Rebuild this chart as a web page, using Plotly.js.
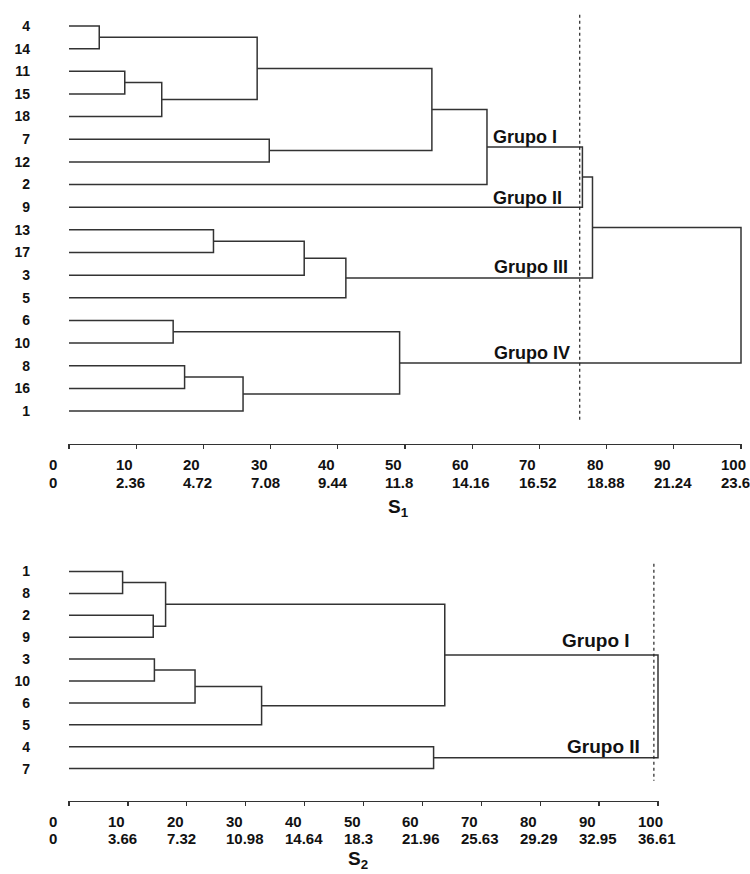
<!DOCTYPE html>
<html>
<head>
<meta charset="utf-8">
<script src="https://cdn.plot.ly/plotly-3.0.1.min.js"></script>
<style>html,body{margin:0;padding:0;background:#fff;}#chart{width:750px;height:874px;}</style>
</head>
<body>
<div id="chart"></div>
<script>
// ---------- DATA ----------
// Dendrogram S1 (leaf order top -> bottom)
const leaves1 = ['4','14','11','15','18','7','12','2','9','13','17','3','5','6','10','8','16','1'];
// merges: node ids < 18 are leaves (by position), id 18+k is the cluster created by merge k
const mergeA1 = [0, 2, 19, 18, 5, 21, 23, 24, 9, 26, 27, 25, 13, 15, 31, 30, 29];
const mergeB1 = [1, 3, 4, 20, 6, 22, 7, 8, 10, 11, 12, 28, 14, 16, 17, 32, 33];
const height1 = [4.5, 8.3, 13.8, 28.0, 29.8, 54.0, 62.2, 76.4, 21.5, 35.0, 41.2, 77.9, 15.5, 17.2, 25.9, 49.2, 100];
const cut1 = 76.0;

// Dendrogram S2
const leaves2 = ['1','8','2','9','3','10','6','5','4','7'];
const mergeA2 = [0, 2, 10, 4, 13, 14, 12, 8, 16];
const mergeB2 = [1, 3, 11, 5, 6, 7, 15, 9, 17];
const height2 = [9.1, 14.3, 16.4, 14.5, 21.4, 32.7, 63.8, 61.9, 100];
const cut2 = 99.3;

// Scale ticks and labels
const scaleTicks = [0, 10, 20, 30, 40, 50, 60, 70, 80, 90, 100];
const scale1Labels = ['0','2.36','4.72','7.08','9.44','11.8','14.16','16.52','18.88','21.24','23.6'];
const scale2Labels = ['0','3.66','7.32','10.98','14.64','18.3','21.96','25.63','29.29','32.95','36.61'];
const groups1 = ['Grupo I','Grupo II','Grupo III','Grupo IV'];
const groups2 = ['Grupo I','Grupo II'];

// ---------- BUILD ----------
function dendroSegments(n, A, B, H) {
  const pos = [], hgt = [];
  for (let i = 0; i < n; i++) { pos.push(i); hgt.push(0); }
  const xs = [], ys = [];
  for (let k = 0; k < H.length; k++) {
    const a = A[k], b = B[k], h = H[k];
    xs.push(hgt[a], h, h, hgt[b], null);
    ys.push(pos[a], pos[a], pos[b], pos[b], null);
    pos.push((pos[a] + pos[b]) / 2);
    hgt.push(h);
  }
  return {xs, ys};
}

const FONT = 'Arial, "Liberation Sans", sans-serif';
const LINE = '#333333';
const d1 = dendroSegments(leaves1.length, mergeA1, mergeB1, height1);
const d2 = dendroSegments(leaves2.length, mergeA2, mergeB2, height2);

const traces = [
  {x: d1.xs, y: d1.ys, xaxis: 'x', yaxis: 'y', type: 'scatter', mode: 'lines',
   line: {color: LINE, width: 1.5}, hoverinfo: 'skip', showlegend: false},
  {x: d2.xs, y: d2.ys, xaxis: 'x2', yaxis: 'y2', type: 'scatter', mode: 'lines',
   line: {color: LINE, width: 1.5}, hoverinfo: 'skip', showlegend: false}
];

const W = 750, Hh = 874;
function yDom(topPx, botPx) { return [(Hh - botPx) / Hh, (Hh - topPx) / Hh]; }

const annotations = [];
function scaleLabels(xref, yref, labels, row1, row2) {
  scaleTicks.forEach((t, i) => {
    annotations.push({xref: xref, yref: yref + ' domain', x: t, y: 0, xanchor: 'left', yanchor: 'middle',
      xshift: -21, yshift: row1, text: String(t), showarrow: false, borderpad: 0,
      font: {family: FONT, size: 15, color: '#111', weight: 'bold'}});
    annotations.push({xref: xref, yref: yref + ' domain', x: t, y: 0, xanchor: 'left', yanchor: 'middle',
      xshift: -21, yshift: row2, text: labels[i], showarrow: false, borderpad: 0,
      font: {family: FONT, size: 15, color: '#111', weight: 'bold'}});
  });
}
scaleLabels('x', 'y', scale1Labels, -21, -39);
scaleLabels('x2', 'y2', scale2Labels, -20, -37);

annotations.push({xref: 'x', yref: 'y domain', x: 49, y: 0, yshift: -64, xanchor: 'center', yanchor: 'middle',
  text: 'S<sub>1</sub>', showarrow: false, borderpad: 0, font: {family: FONT, size: 19, color: '#111', weight: 'bold'}});
annotations.push({xref: 'x2', yref: 'y2 domain', x: 49, y: 0, yshift: -59, xanchor: 'center', yanchor: 'middle',
  text: 'S<sub>2</sub>', showarrow: false, borderpad: 0, font: {family: FONT, size: 19, color: '#111', weight: 'bold'}});

const g1pos = [[72.9, 4.92], [73.7, 7.58], [74.6, 10.62], [74.9, 14.43]];
groups1.forEach((g, i) => annotations.push({xref: 'x', yref: 'y', x: g1pos[i][0], y: g1pos[i][1],
  xanchor: 'right', yanchor: 'middle', text: g, showarrow: false,
  font: {family: FONT, size: 18, color: '#111', weight: 'bold'}}));
const g2pos = [[95.6, 3.17], [97.2, 7.97]];
groups2.forEach((g, i) => annotations.push({xref: 'x2', yref: 'y2', x: g2pos[i][0], y: g2pos[i][1],
  xanchor: 'right', yanchor: 'middle', text: g, showarrow: false,
  font: {family: FONT, size: 19, color: '#111', weight: 'bold'}}));

const shapes = [
  {type: 'line', xref: 'x', yref: 'y', x0: cut1, x1: cut1, y0: -0.5, y1: 17.5,
   line: {color: '#222', width: 1.2, dash: 'dot'}},
  {type: 'line', xref: 'x2', yref: 'y2', x0: cut2, x1: cut2, y0: -0.35, y1: 9.55,
   line: {color: '#222', width: 1.2, dash: 'dot'}}
];

function xAxis(anchor, domain) {
  return {anchor: anchor, domain: domain, range: [-0.2, 100.2], showgrid: false, zeroline: false,
    showline: true, linecolor: LINE, linewidth: 1.4, ticks: 'outside', ticklen: 4, tickwidth: 1.3,
    tickcolor: LINE, tickmode: 'array', tickvals: scaleTicks, showticklabels: false, fixedrange: true};
}
function yAxis(domain, range, leaves, posPx) {
  return {domain: domain, range: range, anchor: 'free', position: posPx / W, showgrid: false, zeroline: false,
    showline: false, ticks: '', tickmode: 'array', tickvals: leaves.map((_, i) => i), ticktext: leaves,
    tickfont: {family: FONT, size: 14, color: '#111', weight: 'bold'}, fixedrange: true};
}

const layout = {
  width: W, height: Hh, margin: {l: 0, r: 0, t: 0, b: 0},
  paper_bgcolor: '#fff', plot_bgcolor: '#fff', showlegend: false,
  xaxis: xAxis('y', [67.66 / W, 742.34 / W]),
  yaxis: yAxis(yDom(10, 444), [18.455, -0.706], leaves1, 30),
  xaxis2: xAxis('y2', [67.82 / W, 659.18 / W]),
  yaxis2: yAxis(yDom(555, 801), [10.479, -0.753], leaves2, 30),
  annotations: annotations,
  shapes: shapes
};

Plotly.newPlot('chart', traces, layout, {staticPlot: true, displayModeBar: false});
</script>
</body>
</html>
